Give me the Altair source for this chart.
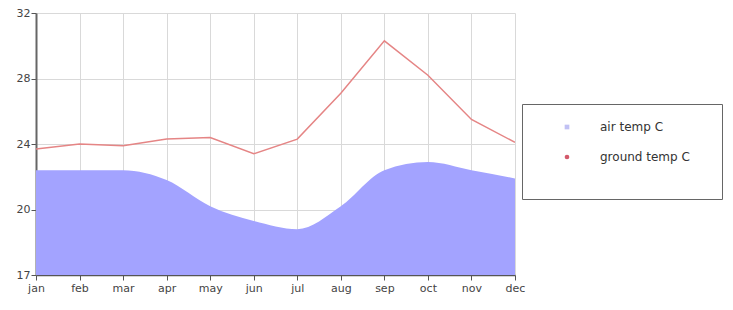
import altair as alt
import pandas as pd

months = ["jan", "feb", "mar", "apr", "may", "jun", "jul", "aug", "sep", "oct", "nov", "dec"]
air_temp = [22.4, 22.4, 22.4, 21.8, 20.2, 19.3, 18.8, 20.2, 22.4, 22.9, 22.4, 21.9]
ground_temp = [23.7, 24.0, 23.9, 24.3, 24.4, 23.4, 24.3, 27.1, 30.3, 28.2, 25.5, 24.1]
series_names = ["air temp C", "ground temp C"]
y_ticks = [16, 20, 24, 28, 32]

df = pd.DataFrame({
    "month": months * 2,
    "series": [series_names[0]] * 12 + [series_names[1]] * 12,
    "value": air_temp + ground_temp,
})

x = alt.X("month:N", sort=months, title=None,
          scale=alt.Scale(type="point", padding=0),
          axis=alt.Axis(labelAngle=0, grid=True, gridColor="#d9d9d9", tickColor="#555",
                        domainColor="#555", domainWidth=1.5, tickSize=5,
                        labelFont="DejaVu Sans", labelFontSize=11, labelColor="#444",
                        labelPadding=2))
y = alt.Y("value:Q", title=None,
          scale=alt.Scale(domain=[16, 32], zero=False, nice=False),
          axis=alt.Axis(values=y_ticks, grid=True, gridColor="#d9d9d9", tickColor="#555",
                        domainColor="#666", domainWidth=2, tickSize=5,
                        labelFont="DejaVu Sans", labelFontSize=11, labelColor="#444",
                        labelPadding=1,
                        labelExpr="datum.value == 16 ? '17' : datum.label"))

legend = alt.Legend(orient="none", legendX=486, legendY=91,
                    title="x" * 80, titleOrient="bottom", titleLimit=166, titleOpacity=0,
                    titleFontSize=12, titlePadding=8,
                    symbolSize=22,
                    labelFont="DejaVu Sans", labelFontSize=12, labelColor="#333",
                    padding=17, rowPadding=18, symbolOffset=22, labelOffset=27,
                    strokeColor="#666", fillColor="white")
color = alt.Color("series:N",
                  scale=alt.Scale(domain=series_names, range=["#a6a6f0", "#c0142c"]),
                  legend=legend)
shape = alt.Shape("series:N",
                  scale=alt.Scale(domain=series_names, range=["square", "circle"]),
                  legend=legend)

base = alt.Chart(df)
area = base.transform_filter(alt.datum.series == series_names[0]).mark_area(
    interpolate="monotone", opacity=1, clip=True, color="#a3a3ff"
).encode(x=x, y=y, y2=alt.datum(16))
line = base.transform_filter(alt.datum.series == series_names[1]).mark_line(
    strokeWidth=1.5, clip=True, color="#e58585"
).encode(x=x, y=y)
keys = base.mark_point(filled=True, size=0, strokeWidth=0).encode(
    x=x, y=y, color=color, shape=shape)

chart = alt.layer(area, line, keys).properties(
    width=479, height=262,
    autosize="none",
    padding={"left": 28, "top": 5, "right": 209, "bottom": 27},
).configure_view(stroke=None)

chart.save("out.html", embed_options={"renderer": "svg", "actions": False})
